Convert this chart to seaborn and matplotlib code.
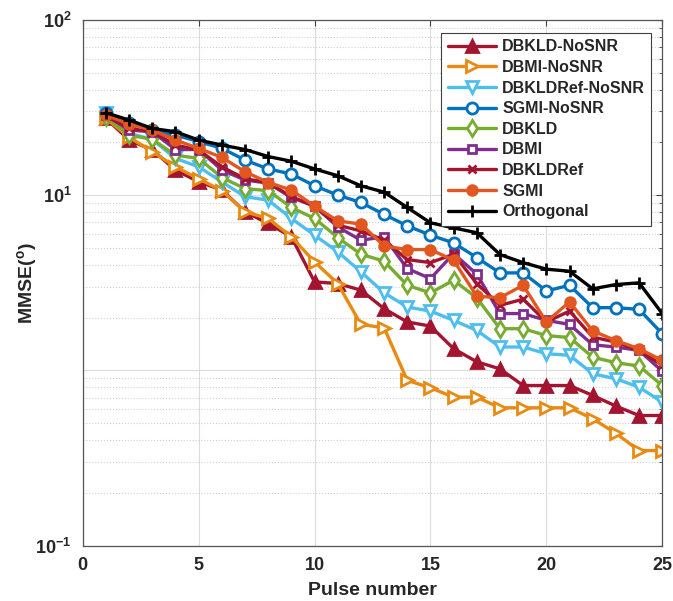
import numpy as np
import pandas as pd
import matplotlib
matplotlib.use("Agg")
import matplotlib.pyplot as plt
import seaborn as sns
from matplotlib.ticker import LogLocator, FixedLocator, FixedFormatter, NullFormatter

pulses = list(range(1, 26))

dbkld_nosnr = [27.4, 20.6, 18.1, 13.9, 11.9, 10.7, 8.03, 6.89, 5.78, 3.20, 3.13, 2.87, 2.25,
               1.89, 1.79, 1.33, 1.12, 1.02, 0.82, 0.82, 0.82, 0.72, 0.626, 0.553, 0.553]
dbmi_nosnr = [27.4, 21.4, 17.7, 14.5, 12.4, 10.6, 8.03, 7.36, 5.78, 4.16, 3.13, 1.83, 1.75,
              0.877, 0.796, 0.704, 0.704, 0.612, 0.612, 0.612, 0.612, 0.530, 0.438, 0.349, 0.349]
dbkldref_nosnr = [29.3, 22.5, 20.8, 16.2, 14.5, 11.9, 9.8, 9.36, 7.36, 5.91, 4.75, 3.65, 2.77,
                  2.30, 2.18, 1.93, 1.69, 1.36, 1.36, 1.245, 1.22, 0.957, 0.896, 0.803, 0.659]
sgmi_nosnr = [29.3, 25.9, 23.5, 22.0, 20.2, 18.5, 15.85, 14.1, 13.2, 11.3, 10.0, 9.08, 7.76,
              6.68, 5.91, 5.34, 4.40, 3.60, 3.60, 2.84, 3.06, 2.28, 2.28, 2.23, 1.62]
dbkld = [28.0, 22.0, 20.8, 16.9, 16.2, 12.6, 10.9, 10.6, 8.5, 7.36, 5.73, 4.60, 4.20,
         3.06, 2.77, 3.27, 2.59, 1.73, 1.73, 1.58, 1.54, 1.19, 1.106, 1.06, 0.82]
dbmi = [28.6, 23.5, 23.0, 18.2, 18.2, 13.9, 12.2, 11.7, 9.7, 8.65, 6.59, 5.53, 5.78,
        3.81, 3.34, 4.64, 3.54, 2.11, 2.11, 1.93, 1.83, 1.40, 1.36, 1.30, 0.99]
dbkldref = [28.3, 24.0, 23.0, 19.3, 18.1, 14.5, 12.4, 11.8, 9.8, 8.65, 6.74, 6.25, 5.53,
            4.29, 4.12, 4.60, 3.13, 2.35, 2.55, 1.89, 2.18, 1.55, 1.45, 1.30, 1.07]
sgmi = [28.6, 25.5, 23.5, 20.6, 18.5, 16.4, 13.6, 11.8, 10.7, 8.65, 7.13, 6.83, 5.13,
        4.89, 4.89, 4.25, 2.65, 2.60, 3.06, 1.89, 2.46, 1.68, 1.48, 1.33, 1.14]
orthogonal = [29.5, 26.8, 24.0, 23.0, 20.6, 19.3, 18.2, 16.6, 15.6, 14.1, 12.9, 11.3, 10.4,
              8.5, 6.95, 6.5, 6.1, 4.58, 4.12, 3.78, 3.68, 2.92, 3.09, 3.16, 2.11]

series_names = ["DBKLD-NoSNR", "DBMI-NoSNR", "DBKLDRef-NoSNR", "SGMI-NoSNR",
                "DBKLD", "DBMI", "DBKLDRef", "SGMI", "Orthogonal"]
series_values = [dbkld_nosnr, dbmi_nosnr, dbkldref_nosnr, sgmi_nosnr,
                 dbkld, dbmi, dbkldref, sgmi, orthogonal]

df = pd.DataFrame({
    "pulse": np.tile(pulses, len(series_names)),
    "mmse": np.concatenate(series_values),
    "method": np.repeat(series_names, len(pulses)),
})

# colour, marker, marker size, filled face
styles = {
    "DBKLD-NoSNR":    ("#A2142F", "^", 9, True),
    "DBMI-NoSNR":     ("#E98B13", ">", 9, False),
    "DBKLDRef-NoSNR": ("#4DBEEE", "v", 9, False),
    "SGMI-NoSNR":     ("#0072BD", "o", 8, False),
    "DBKLD":          ("#77AC30", "d", 8, False),
    "DBMI":           ("#7E2F8E", "s", 6, False),
    "DBKLDRef":       ("#A2142F", "x", 6, False),
    "SGMI":           ("#E2571F", "o", 7, True),
    "Orthogonal":     ("#000000", "+", 8, False),
}

sns.set_theme(style="white")
plt.rcParams["font.family"] = ["Liberation Sans", "DejaVu Sans"]
plt.rcParams["mathtext.fontset"] = "custom"
plt.rcParams["mathtext.rm"] = "Liberation Sans:bold"
plt.rcParams["mathtext.bf"] = "Liberation Sans:bold"
plt.rcParams["mathtext.it"] = "Liberation Sans:bold"

fig = plt.figure(figsize=(6.73, 6.01), dpi=100)
ax = fig.add_axes([0.123, 0.092, 0.861, 0.875])

for name in series_names:
    color, marker, ms, filled = styles[name]
    sub = df[df["method"] == name]
    sns.lineplot(data=sub, x="pulse", y="mmse", ax=ax, color=color, label=name,
                 marker=marker, markersize=ms, markeredgewidth=2.0,
                 markerfacecolor=color if filled else "white",
                 markeredgecolor=color, linewidth=2.4, estimator=None)

ax.set_yscale("log")
ax.set_xlim(0, 25)
ax.set_ylim(0.1, 100)

ax.xaxis.set_major_locator(FixedLocator([0, 5, 10, 15, 20, 25]))
ax.yaxis.set_major_locator(FixedLocator([0.1, 1, 10, 100]))
ax.yaxis.set_major_formatter(FixedFormatter([r"$\mathbf{10^{-1}}$", "", r"$\mathbf{10^{1}}$",
                                             r"$\mathbf{10^{2}}$"]))
ax.yaxis.set_minor_locator(LogLocator(base=10, subs=np.arange(2, 10), numticks=20))
ax.yaxis.set_minor_formatter(NullFormatter())

ax.grid(True, which="major", axis="both", color="#dcdcdc", linestyle="-", linewidth=0.8)
ax.grid(True, which="minor", axis="y", color="#d0d0d0", linestyle=":", linewidth=0.8)
ax.set_axisbelow(True)

ax.tick_params(axis="both", which="both", direction="in", top=True, right=True,
               colors="#404040", labelcolor="#262626")
ax.tick_params(axis="both", which="major", length=4, width=0.8, labelsize=13, pad=8)
ax.tick_params(axis="y", which="minor", length=2.5, width=0.6)
for lab in ax.get_xticklabels():
    lab.set_fontweight("bold")

for sp in ax.spines.values():
    sp.set_color("#555555")
    sp.set_linewidth(0.9)

ax.set_xlabel("Pulse number", fontsize=14, fontweight="bold", color="#262626", labelpad=6)
ax.set_ylabel(r"MMSE($^{\mathbf{o}}$)", fontsize=14, fontweight="bold", color="#262626")
ax.yaxis.set_label_coords(-0.075, 0.5)

leg = ax.legend(loc="upper right", bbox_to_anchor=(0.995, 0.99), frameon=True,
                fancybox=False, framealpha=1, edgecolor="#404040",
                prop={"family": "Liberation Sans", "weight": "bold", "size": 11.5},
                handlelength=3.0, handletextpad=0.4, labelspacing=0.35, borderpad=0.4)
leg.get_frame().set_linewidth(0.8)

fig.savefig("out.png", dpi=100, facecolor="white")
